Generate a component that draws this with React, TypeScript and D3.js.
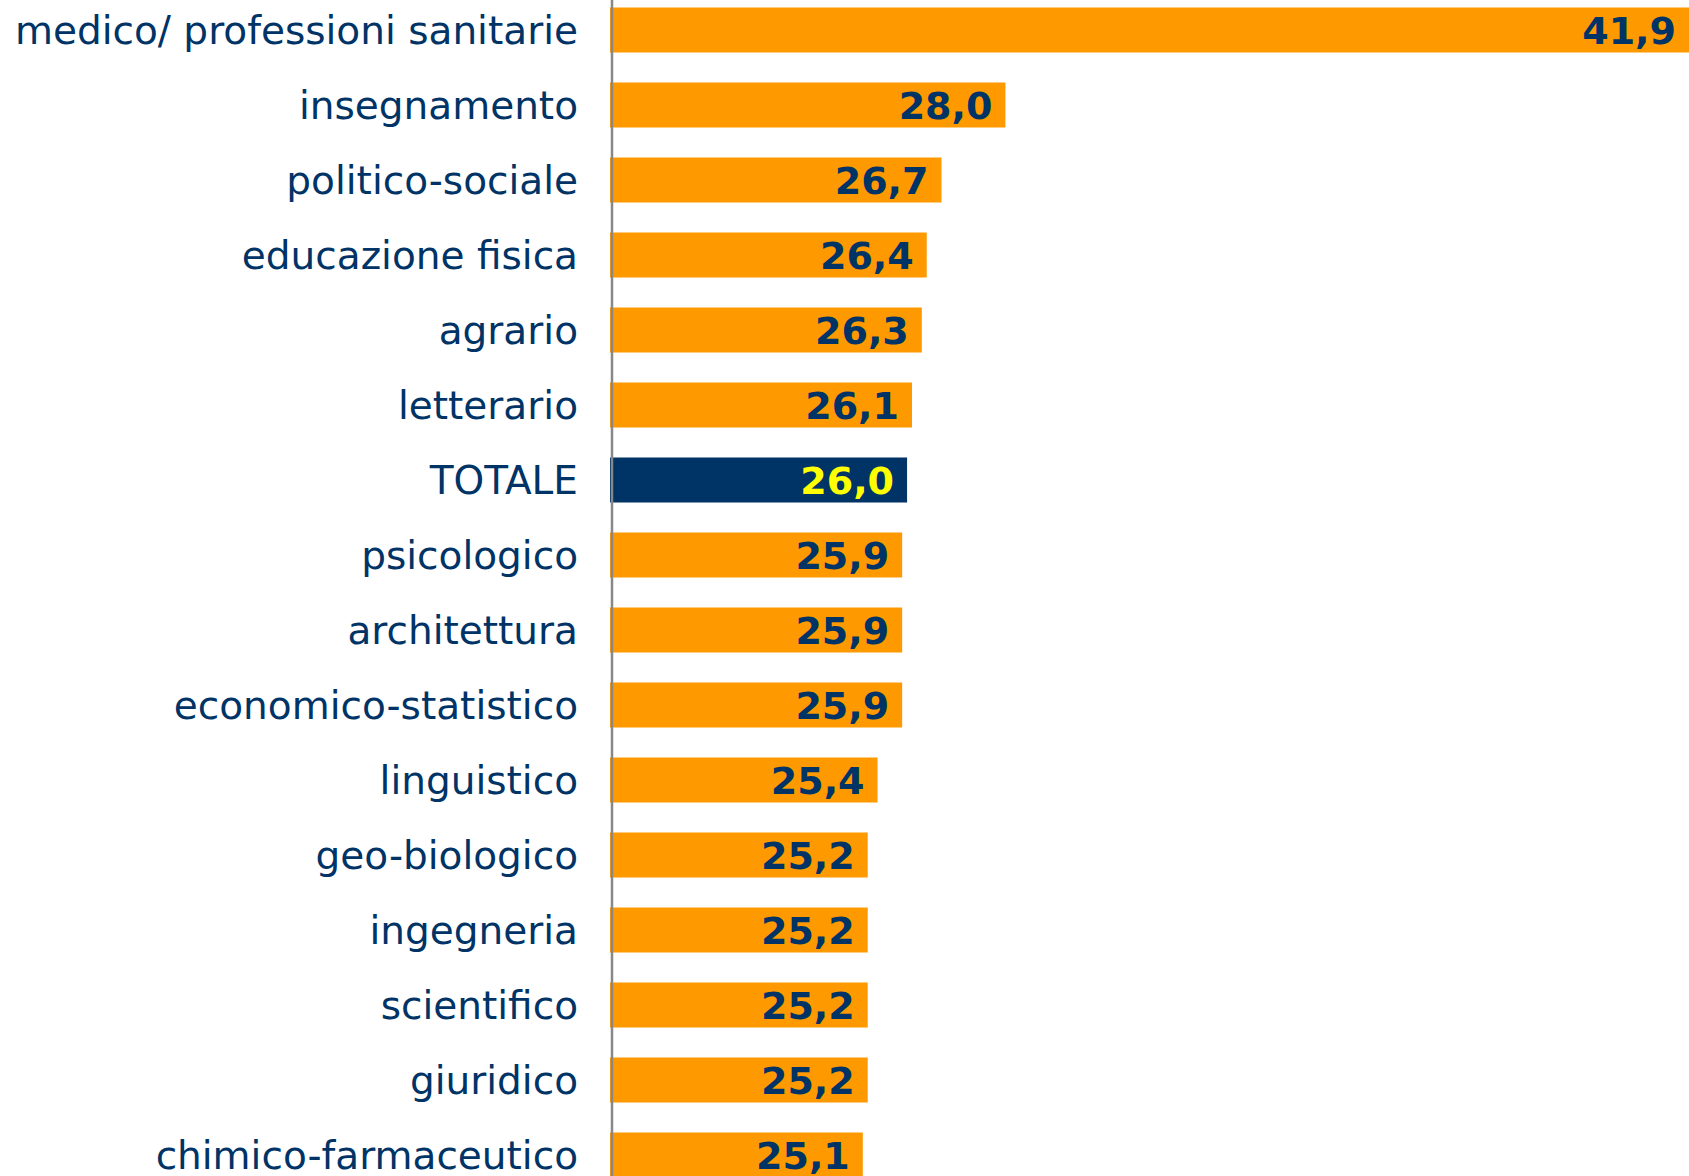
import React from "react";
import * as d3 from "d3";

const categories = [
  "medico/ professioni sanitarie",
  "insegnamento",
  "politico-sociale",
  "educazione fisica",
  "agrario",
  "letterario",
  "TOTALE",
  "psicologico",
  "architettura",
  "economico-statistico",
  "linguistico",
  "geo-biologico",
  "ingegneria",
  "scientifico",
  "giuridico",
  "chimico-farmaceutico",
];
const values = [41.9, 28.0, 26.7, 26.4, 26.3, 26.1, 26.0, 25.9, 25.9, 25.9, 25.4, 25.2, 25.2, 25.2, 25.2, 25.1];
const highlight = "TOTALE";

const W = 1689;
const H = 1176;
const ORANGE = "#FF9900";
const NAVY = "#003366";
const YELLOW = "#FFFF00";

export default function App() {
  const x = d3.scaleLinear().domain([20, 41.9]).range([612, 1689]);
  const y = d3
    .scaleBand<string>()
    .domain(categories)
    .range([7.5, 1177.5])
    .paddingInner(0.4)
    .paddingOuter(0);
  const fmt = (v: number) => v.toFixed(1).replace(".", ",");

  return (
    <svg
      width={W}
      height={H}
      viewBox={`0 0 ${W} ${H}`}
      style={{ position: "absolute", left: 0, top: 0, background: "#fff" }}
    >
      {categories.map((c, i) => {
        const v = values[i];
        const isH = c === highlight;
        const y0 = y(c)!;
        const bw = y.bandwidth();
        const cy = y0 + bw / 2;
        return (
          <g key={c}>
            <rect x={x(20) - 2} y={y0} width={x(v) - x(20) + 2} height={bw} fill={isH ? NAVY : ORANGE} />
            <text
              x={578}
              y={cy}
              textAnchor="end"
              dominantBaseline="central"
              fontFamily="DejaVu Sans"
              fontSize={39}
              fill={NAVY}
            >
              {c}
            </text>
            <text
              x={x(v) - 13}
              y={cy + 1}
              textAnchor="end"
              dominantBaseline="central"
              fontFamily="DejaVu Sans"
              fontWeight="bold"
              fontSize={38}
              fill={isH ? YELLOW : NAVY}
            >
              {fmt(v)}
            </text>
          </g>
        );
      })}
      <line x1={x(20)} x2={x(20)} y1={0} y2={H} stroke="#888" strokeWidth={2.5} />
    </svg>
  );
}
